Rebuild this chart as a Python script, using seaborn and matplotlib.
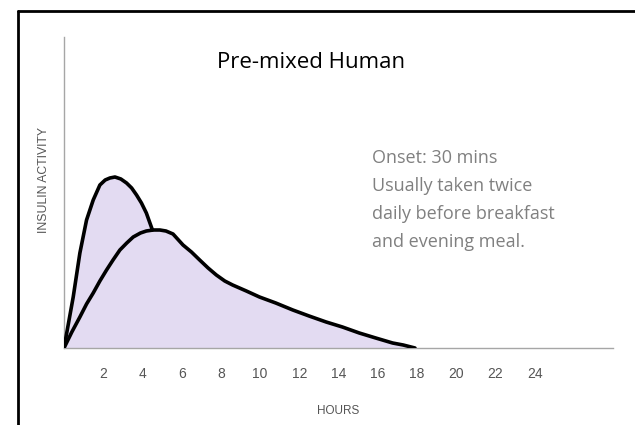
import matplotlib
matplotlib.use("Agg")
import matplotlib.pyplot as plt
import seaborn as sns
import pandas as pd
from matplotlib.lines import Line2D

# curve readings (hours, relative insulin activity)
rapid_hours = [0, 0.47, 0.81, 1.15, 1.49, 1.83, 2.1, 2.34, 2.6, 2.9, 3.19, 3.45,
               3.7, 3.95, 4.2, 4.51]
rapid_activity = [0, 51, 95, 128, 148, 163, 168, 170, 171, 169, 165, 160,
                  153, 145, 135, 118]

long_hours = [0, 0.4, 0.81, 1.15, 1.49, 1.83, 2.17, 2.5, 2.85, 3.2, 3.53, 3.9, 4.2,
              4.55, 4.89, 5.2, 5.56, 6.07, 6.5, 6.92, 7.35, 7.77, 8.2, 8.6,
              9.3, 9.97, 10.8, 11.67, 12.5, 13.37, 14.2, 15.06, 15.9, 16.76,
              17.3, 17.9]
long_activity = [0, 16, 31, 44, 55, 67, 78, 88, 98, 105, 111, 115, 117,
                 118, 118, 117, 114, 103, 96, 88, 80, 73, 67, 63,
                 57, 51, 45, 38, 32, 26, 21, 15, 10, 5,
                 3, 0]

hour_ticks = [2, 4, 6, 8, 10, 12, 14, 16, 18, 20, 22, 24]
title = "Pre-mixed Human"
note = "Onset: 30 mins\nUsually taken twice\ndaily before breakfast\nand evening meal."

sns.set_style("white")
plt.rcParams['font.family'] = ['Liberation Sans', 'DejaVu Sans']

fig = plt.figure(figsize=(6.35, 4.25), dpi=100)
ax = fig.add_axes([64 / 635, 1 - 348 / 425, 549 / 635, 311 / 425])

rapid = pd.DataFrame({"hours": rapid_hours, "activity": rapid_activity})
longer = pd.DataFrame({"hours": long_hours, "activity": long_activity})

fill = '#E3DBF2'
ax.fill_between(rapid.hours, 0, rapid.activity, color=fill, lw=0, zorder=2)
ax.fill_between(longer.hours, 0, longer.activity, color=fill, lw=0, zorder=2)
for df in (rapid, longer):
    sns.lineplot(data=df, x="hours", y="activity", ax=ax, color="black", lw=2.6,
                 sort=False, zorder=3, solid_joinstyle="round", solid_capstyle="round")

ax.set_xlim(0, 28)
ax.set_ylim(0, 311)
for side in ["top", "right"]:
    ax.spines[side].set_visible(False)
ax.spines["left"].set_color("#a6a6a6")
ax.spines["bottom"].set_color("#a6a6a6")
ax.spines["left"].set_linewidth(1)
ax.spines["bottom"].set_linewidth(1)
ax.set_xticks(hour_ticks)
ax.set_xticklabels([str(h) for h in hour_ticks])
ax.set_yticks([])
ax.tick_params(axis="x", length=0, pad=14, labelsize=10, labelcolor="#555555")
ax.set_xlabel("HOURS", fontsize=8.5, color="#555555", labelpad=17)
ax.set_ylabel("")

fig.text(44 / 635, 1 - 180 / 425, "INSULIN ACTIVITY", rotation=90, fontsize=8.8,
         color="#555555", ha="center", va="center")
fig.text(311 / 635, 1 - 62 / 425, title, fontsize=16, family=["Open Sans"],
         ha="center", va="center", color="black")
fig.text(372 / 635, 1 - 149 / 425, note, fontsize=13, family=["Open Sans"],
         color="#808080", ha="left", va="top", linespacing=1.72)

# frame edges
fig.add_artist(Line2D([18 / 635, 18 / 635], [0, 1 - 11 / 425], transform=fig.transFigure,
                      color="black", lw=2))
fig.add_artist(Line2D([18 / 635, 1], [1 - 11 / 425, 1 - 11 / 425], transform=fig.transFigure,
                      color="black", lw=2))

plt.savefig("out.png", dpi=100)
